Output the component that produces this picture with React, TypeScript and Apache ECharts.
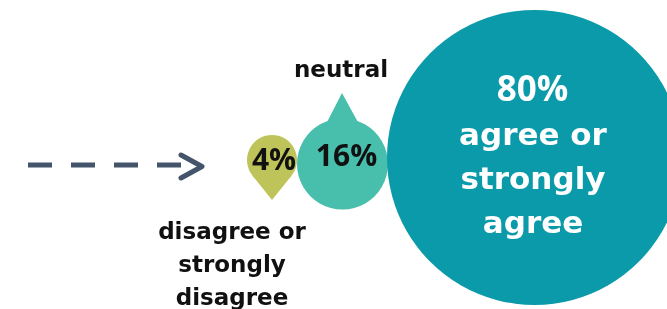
import React, { useEffect, useRef } from "react";
import * as echarts from "echarts";

const categories = ["disagree or strongly disagree", "neutral", "agree or strongly agree"];
const values = [4, 16, 80];
const outerLabels = ["disagree or\nstrongly\ndisagree", "neutral", ""];
const innerWords = ["", "", "agree or\nstrongly\nagree"];

// layout (pixel space of a 667x309 canvas)
const layout = [
  { x: 272, y: 160, r: 25, pointer: "down", tip: 40, color: "#BFC45A", textColor: "#111111", numSize: 30, numX: 2, numY: -2, outer: { x: 232, y: 264 } },
  { x: 342.5, y: 164, r: 45.5, pointer: "up", tip: 71, color: "#48BFAD", textColor: "#111111", numSize: 30, numX: 4, numY: -10, outer: { x: 341, y: 69 } },
  { x: 534.5, y: 157.5, r: 147.5, pointer: "none", tip: 0, color: "#0A9AA9", textColor: "#FFFFFF", numSize: 35, numX: -2, numY: -70, outer: null as any },
];

const NUM_FONT = "'Open Sans', 'Noto Sans', sans-serif";
const WORD_FONT = "'DejaVu Sans', 'Noto Sans', sans-serif";

export default function App() {
  const ref = useRef<HTMLDivElement>(null);
  useEffect(() => {
    document.body.style.margin = "0";
    const chart = echarts.init(ref.current!, null, { renderer: "svg" });
    const option: any = {
      animation: false,
      grid: { left: 0, right: 0, top: 0, bottom: 0 },
      xAxis: { type: "value", min: 0, max: 667, show: false },
      yAxis: { type: "value", min: 0, max: 309, inverse: true, show: false },
      graphic: [
        {
          type: "line",
          shape: { x1: 28, y1: 165, x2: 182, y2: 165 },
          style: { stroke: "#44546A", lineWidth: 5, lineDash: [24, 19] },
        },
        {
          type: "polyline",
          shape: { points: [[181, 155], [202, 166.5], [181, 178]] },
          style: { stroke: "#44546A", lineWidth: 5, lineCap: "round", lineJoin: "round", fill: "none" },
        },
      ],
      series: [
        {
          type: "custom",
          coordinateSystem: "cartesian2d",
          data: values.map((v, i) => ({ name: categories[i], value: [layout[i].x, layout[i].y, v] })),
          renderItem: (params: any, api: any) => {
            const i = params.dataIndex;
            const L = layout[i];
            const [cx, cy] = api.coord([api.value(0), api.value(1)]);
            const r = L.r;
            const v = api.value(2);
            const children: any[] = [];
            if (L.pointer === "down") {
              const d = L.tip;
              const c = r / d;
              const s = Math.sqrt(1 - c * c);
              children.push({
                type: "polygon",
                shape: { points: [[cx - r * s, cy + r * c], [cx, cy + d], [cx + r * s, cy + r * c]] },
                style: { fill: L.color },
              });
            } else if (L.pointer === "up") {
              children.push({
                type: "polygon",
                shape: { points: [[cx - 17, cy - 39], [cx - 0.5, cy - L.tip], [cx + 17, cy - 39]] },
                style: { fill: L.color },
              });
            }
            children.push({ type: "circle", shape: { cx, cy, r }, style: { fill: L.color } });
            children.push({
              type: "text",
              style: {
                text: `${v}%`,
                x: cx + L.numX,
                y: cy + L.numY,
                fill: L.textColor,
                fontSize: L.numSize,
                fontWeight: "bold",
                fontFamily: NUM_FONT,
                align: "center",
                verticalAlign: "middle",
              },
            });
            if (innerWords[i]) {
              children.push({
                type: "text",
                style: {
                  text: innerWords[i],
                  x: cx - 1.5,
                  y: cy + 20,
                  fill: L.textColor,
                  fontSize: 31,
                  fontWeight: "bold",
                  fontFamily: WORD_FONT,
                  lineHeight: 44,
                  align: "center",
                  verticalAlign: "middle",
                },
              });
            }
            if (L.outer && outerLabels[i]) {
              children.push({
                type: "text",
                style: {
                  text: outerLabels[i],
                  x: L.outer.x,
                  y: L.outer.y,
                  fill: "#111111",
                  fontSize: 23,
                  fontWeight: "bold",
                  fontFamily: WORD_FONT,
                  lineHeight: 33,
                  align: "center",
                  verticalAlign: "middle",
                },
              });
            }
            return { type: "group", children };
          },
        },
      ],
    };
    chart.setOption(option);
    return () => chart.dispose();
  }, []);
  return <div ref={ref} style={{ position: "fixed", left: 0, top: 0, width: 667, height: 309 }} />;
}
